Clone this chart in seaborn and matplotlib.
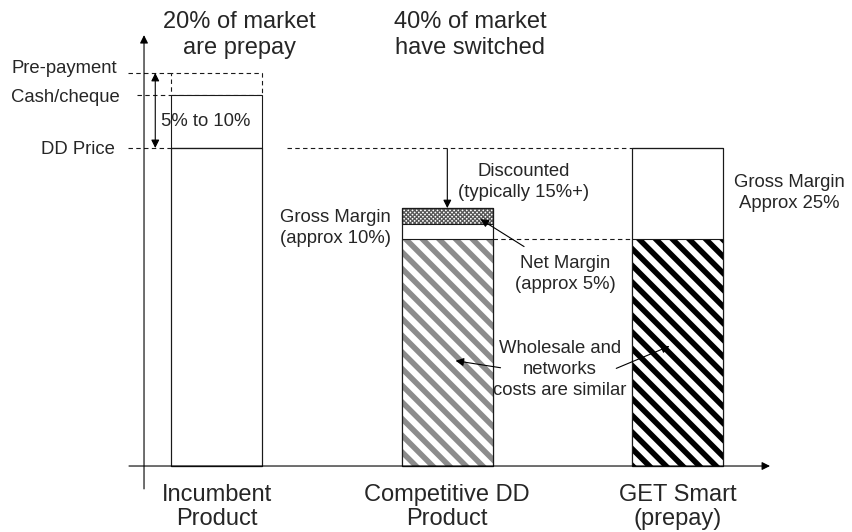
import numpy as np
import matplotlib
matplotlib.use("Agg")
import matplotlib.pyplot as plt
import seaborn as sns

# price index, DD price = 100
products = ["Incumbent\nProduct", "Competitive DD\nProduct", "GET Smart\n(prepay)"]
price_levels = ["Pre-payment", "Cash/cheque", "DD Price"]
level_values = [123.6, 116.7, 100.0]
bar_price = [100.0, 81.1, 100.0]
wholesale_costs = [0.0, 71.4, 71.4]
net_margin = [0.0, 5.0, 0.0]

sns.set_style("white")
plt.rcParams["font.family"] = ["Liberation Sans", "DejaVu Sans"]

W = 0.395
EDGE = "#1a1a1a"
BIG, SMALL = 17, 13.3
DASH = (0, (4, 3))
x = np.arange(len(products))


def hatch_lw(patch, lw):
    if hasattr(patch, "set_hatch_linewidth"):
        patch.set_hatch_linewidth(lw)


fig, ax = plt.subplots(figsize=(8.52, 5.32), dpi=100)
fig.subplots_adjust(left=0, right=1, bottom=0, top=1)

# incumbent's non-DD tariffs sit on top of the DD price
ax.bar(0, level_values[0] - level_values[1], bottom=level_values[1], width=W,
       fill=False, edgecolor=EDGE, linewidth=0.8, linestyle=DASH)
ax.bar(0, level_values[1] - level_values[2], bottom=level_values[2], width=W,
       facecolor="white", edgecolor=EDGE, linewidth=0.8)

sns.barplot(x=products, y=bar_price, color="white", edgecolor=EDGE,
            linewidth=0.8, width=W, ax=ax)

sns.barplot(x=products, y=wholesale_costs, color="white", linewidth=0,
            width=W, ax=ax)
for bar, c in zip(ax.containers[-1], ["white", "#8c8c8c", "black"]):
    bar.set_hatch("\\\\")
    bar.set_edgecolor(c)
    hatch_lw(bar, 4.0)

nm = ax.bar(x, net_margin, bottom=np.subtract(bar_price, net_margin), width=W,
            facecolor="white", edgecolor="#555555", linewidth=0, hatch="xxxxxxxx")
for bar in nm:
    hatch_lw(bar, 0.9)

# outlines
ax.bar(x, bar_price, width=W, fill=False, edgecolor=EDGE, linewidth=0.8)
ax.bar(x, wholesale_costs, width=W, fill=False, edgecolor=EDGE, linewidth=0.8)
ax.bar(x, net_margin, bottom=np.subtract(bar_price, net_margin), width=W,
       fill=False, edgecolor=EDGE, linewidth=0.8)

# dashed guide lines
ax.hlines(level_values[0], -0.385, -W / 2, colors=EDGE, lw=0.8, linestyles=DASH)
ax.hlines(level_values[1], -0.346, -W / 2, colors=EDGE, lw=0.8, linestyles=DASH)
ax.hlines(level_values[2], -0.385, -W / 2, colors=EDGE, lw=0.8, linestyles=DASH)
ax.hlines(bar_price[2], W / 2 + 0.105, 2 - W / 2, colors=EDGE, lw=0.8, linestyles=DASH)
ax.hlines(wholesale_costs[2], 1 + W / 2, 2 - W / 2, colors=EDGE, lw=0.8, linestyles=DASH)


def arrow(start, end, style="-|>"):
    ax.annotate("", xy=end, xytext=start, annotation_clip=False,
                arrowprops=dict(arrowstyle=style, color="black", lw=0.8,
                                mutation_scale=12, shrinkA=0, shrinkB=0))


# axes
arrow((-0.3158, -7.2), (-0.3158, 135.5))
arrow((-0.381, 0), (2.40, 0))

arrow((-0.267, level_values[0]), (-0.267, level_values[2]), "<|-|>")
arrow((1.0, 99.7), (1.0, bar_price[1]))
arrow((1.333, 69.0), (1.144, 77.6))
arrow((1.231, 30.9), (1.036, 33.1))
arrow((1.733, 30.7), (1.964, 37.7))

# labels
for name, v, xr in zip(price_levels, [125.1, 115.9, 99.6], [-0.433, -0.42, -0.441]):
    ax.text(xr, v, name, ha="right", va="center", fontsize=SMALL)
ax.text(-0.241, 108.2, "5% to 10%", ha="left", va="center", fontsize=SMALL)

ax.text(0.098, 135.6, "20% of market\nare prepay", ha="center", va="center",
        fontsize=BIG, linespacing=1.22)
ax.text(1.10, 135.6, "40% of market\nhave switched", ha="center", va="center",
        fontsize=BIG, linespacing=1.22)
ax.text(1.33, 89.3, "Discounted\n(typically 15%+)", ha="center", va="center",
        fontsize=SMALL, linespacing=1.3)
ax.text(0.514, 74.9, "Gross Margin\n(approx 10%)", ha="center", va="center",
        fontsize=SMALL, linespacing=1.3)
ax.text(1.512, 60.4, "Net Margin\n(approx 5%)", ha="center", va="center",
        fontsize=SMALL, linespacing=1.3)
ax.text(1.489, 30.3, "Wholesale and\nnetworks\ncosts are similar", ha="center",
        va="center", fontsize=SMALL, linespacing=1.3)
ax.text(2.485, 85.9, "Gross Margin\nApprox 25%", ha="center", va="center",
        fontsize=SMALL, linespacing=1.3)

ax.set_xlim(-0.9406, 2.7557)
ax.set_ylim(-20.75, 146.54)
for s in ax.spines.values():
    s.set_visible(False)
ax.spines["bottom"].set_position(("data", 0))
ax.set_yticks([])
ax.set_xticks(x, products)
ax.tick_params(axis="x", length=0, pad=13, labelsize=BIG)
for t in ax.get_xticklabels():
    t.set_linespacing(1.13)
ax.set_xlabel("")
ax.set_ylabel("")

fig.savefig("out.png", dpi=100)
